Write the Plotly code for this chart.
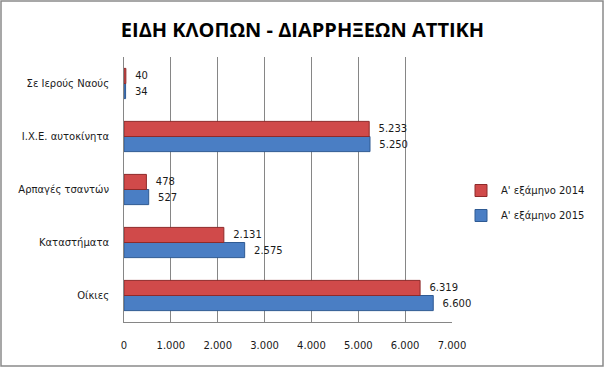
import plotly.graph_objects as go

categories = ["Οίκιες", "Καταστήματα", "Αρπαγές τσαντών", "Ι.Χ.Ε. αυτοκίνητα", "Σε Ιερούς Ναούς"]
values_2014 = [6319, 2131, 478, 5233, 40]
values_2015 = [6600, 2575, 527, 5250, 34]
series_names = ["Α' εξάμηνο 2014", "Α' εξάμηνο 2015"]
x_ticks = [0, 1000, 2000, 3000, 4000, 5000, 6000, 7000]

num_font = dict(family="DejaVu Sans", size=10, color="#1a1a1a")

fig = go.Figure()
fig.add_trace(go.Bar(
    y=categories, x=values_2015, orientation="h", name=series_names[1],
    marker=dict(color="#4A7EC4", line=dict(color="#2F5A93", width=1)),
    text=values_2015, texttemplate="  %{x:,}", textposition="outside",
    textfont=num_font, cliponaxis=False, legendrank=2, legendgroup="b",
))
fig.add_trace(go.Bar(
    y=categories, x=values_2014, orientation="h", name=series_names[0],
    marker=dict(color="#D04A4A", line=dict(color="#8E2A2A", width=1)),
    text=values_2014, texttemplate="  %{x:,}", textposition="outside",
    textfont=num_font, cliponaxis=False, legendrank=1, legendgroup="a",
))

L, R, T, B = 124, 153, 57, 46
W, H = 605, 368
pw, ph = W - L - R, H - T - B

fig.update_layout(
    width=W, height=H,
    margin=dict(l=L, r=R, t=T, b=B, autoexpand=False),
    paper_bgcolor="white", plot_bgcolor="white",
    separators=",.",
    barmode="group", bargap=0.43, bargroupgap=0,
    title=dict(text="<b>ΕΙΔΗ ΚΛΟΠΩΝ - ΔΙΑΡΡΗΞΕΩΝ ΑΤΤΙΚΗ</b>", x=0.5, xanchor="center",
               y=1 - 30 / H, yanchor="middle",
               font=dict(family="Open Sans", size=20, color="black")),
    legend=dict(xref="container", yref="container", x=461 / W, xanchor="left",
                y=1 - 203 / H, yanchor="middle", traceorder="grouped",
                font=dict(family="DejaVu Sans", size=10, color="#1a1a1a"),
                tracegroupgap=6, itemwidth=30, bgcolor="rgba(0,0,0,0)"),
    showlegend=True,
    xaxis=dict(range=[0, 7000], tickvals=x_ticks, tickformat=",d",
               showgrid=True, gridcolor="#868686", gridwidth=1,
               showline=True, linecolor="#868686", linewidth=1,
               zeroline=False, ticks="", ticklabelstandoff=14,
               tickfont=num_font, fixedrange=True, automargin=False),
    yaxis=dict(showgrid=False, showline=True, linecolor="#868686", linewidth=1,
               ticks="", ticklabelstandoff=12, automargin=False,
               tickfont=dict(family="DejaVu Sans", size=10, color="#1a1a1a")),
    shapes=[dict(type="rect", xref="paper", yref="paper",
                 x0=(1 - L) / pw, x1=(W - 2 - L) / pw,
                 y0=(H - B - (H - 2)) / ph, y1=(H - B - 1) / ph,
                 line=dict(color="#8a8a8a", width=1.5), layer="above")],
)

fig.write_html("out.html")
